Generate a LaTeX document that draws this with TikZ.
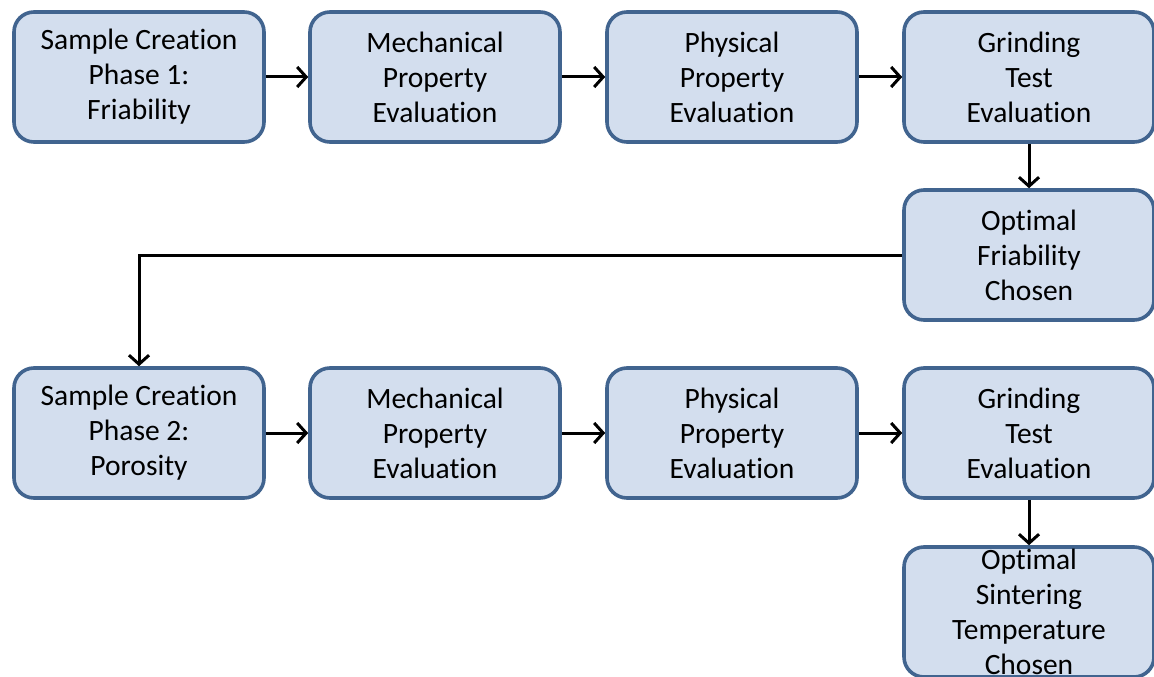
\documentclass[tikz,border=0pt]{standalone}
\usepackage{fontspec}
\setmainfont{Carlito}[Ligatures=NoCommon]
\usetikzlibrary{arrows.meta}
\definecolor{boxblue}{HTML}{41648F}
\definecolor{boxfill}{HTML}{D3DEEE}
\begin{document}
\begin{tikzpicture}[x=1pt,y=-1pt,
  box/.style={draw=boxblue, fill=boxfill, line width=3.6pt, rounded corners=20pt,
    minimum width=250pt, minimum height=130pt, align=center, inner sep=0pt,
    font=\fontsize{29.5}{35}\selectfont},
  conn/.style={line width=3pt, -{Straight Barb[length=9pt,width=20pt,line width=3pt]}}]
\useasboundingbox (0,0) rectangle (1154,677);
\clip (0,0) rectangle (1154,677);
\node[box] (a1) at (139,77) {Sample Creation\\Phase 1:\\Friability};
\node[box] (a2) at (435,77) {Mechanical\\Property\\Evaluation};
\node[box] (a3) at (732,77) {Physical\\Property\\Evaluation};
\node[box] (a4) at (1029,77) {Grinding\\Test\\Evaluation};
\node[box] (b) at (1029,255) {Optimal\\Friability\\Chosen};
\node[box] (c1) at (139,433) {Sample Creation\\Phase 2:\\Porosity};
\node[box] (c2) at (435,433) {Mechanical\\Property\\Evaluation};
\node[box] (c3) at (732,433) {Physical\\Property\\Evaluation};
\node[box] (c4) at (1029,433) {Grinding\\Test\\Evaluation};
\node[box] (d) at (1029,612) {Optimal\\Sintering\\Temperature\\Chosen};
\draw[conn] (a1) -- (a2);
\draw[conn] (a2) -- (a3);
\draw[conn] (a3) -- (a4);
\draw[conn] (a4) -- (b);
\draw[conn] (b.west) -| (c1.north);
\draw[conn] (c1) -- (c2);
\draw[conn] (c2) -- (c3);
\draw[conn] (c3) -- (c4);
\draw[conn] (c4) -- (d);
\end{tikzpicture}
\end{document}
